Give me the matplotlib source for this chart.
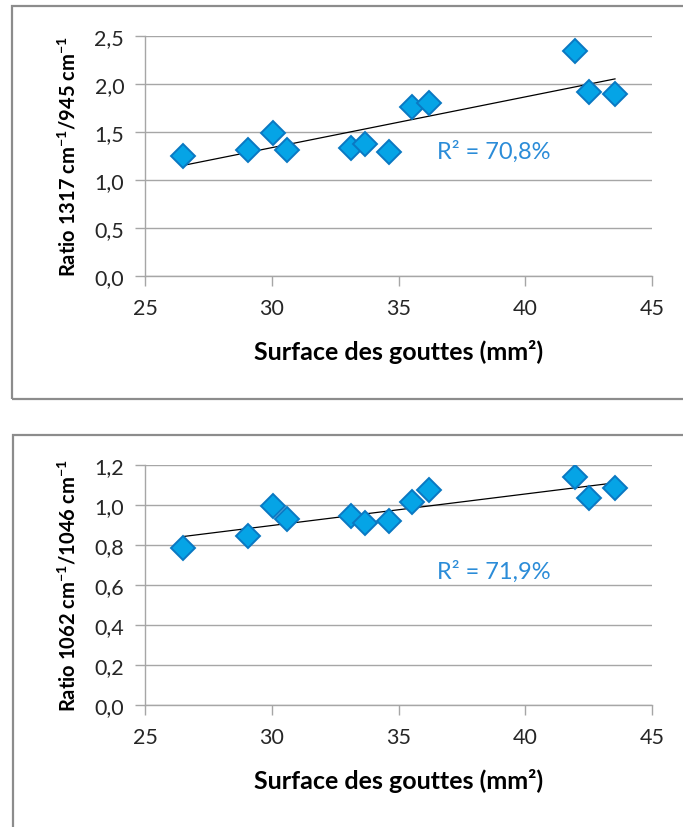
import numpy as np
import matplotlib
matplotlib.use('Agg')
import matplotlib.pyplot as plt
import matplotlib.patches as patches
from matplotlib.ticker import FuncFormatter, MultipleLocator

plt.rcParams['font.family'] = ['Lato', 'DejaVu Sans']
plt.rcParams['mathtext.fontset'] = 'custom'
plt.rcParams['mathtext.rm'] = 'Lato'
plt.rcParams['mathtext.bf'] = 'Lato:bold'

# data
surface = [26.5, 29.07, 30.06, 30.59, 33.11, 33.68, 34.64, 35.52, 36.22, 41.96, 42.53, 43.54]
ratio_1317_945 = [1.253, 1.316, 1.486, 1.31, 1.333, 1.375, 1.295, 1.757, 1.799, 2.34, 1.92, 1.896]
ratio_1062_1046 = [0.782, 0.845, 0.995, 0.928, 0.945, 0.907, 0.917, 1.012, 1.073, 1.137, 1.032, 1.083]

ylabels = [r'Ratio 1317 cm$^{\mathbf{-1}}$/945 cm$^{\mathbf{-1}}$',
           r'Ratio 1062 cm$^{\mathbf{-1}}$/1046 cm$^{\mathbf{-1}}$']
r2_text = ['R² = 70,8%', 'R² = 71,9%']
r2_pos = [(36.5, 1.30), (36.5, 0.67)]
ylims = [(0, 2.5), (0, 1.2)]
ysteps = [0.5, 0.2]
series = [ratio_1317_945, ratio_1062_1046]

grid_c = '#A6A6A6'
frame_c = '#8C8C8C'
text_c = '#262626'

fig = plt.figure(figsize=(6.83, 8.28), dpi=100)

# chart frames
fig.patches.append(patches.Rectangle((12 / 683, 1 - 400 / 828), 1.0, 393 / 828,
                                     transform=fig.transFigure, fill=False,
                                     edgecolor=frame_c, linewidth=1.6, clip_on=False))
fig.patches.append(patches.Rectangle((12.5 / 683, -0.1), 1.0, 0.1 + 1 - 436 / 828,
                                     transform=fig.transFigure, fill=False,
                                     edgecolor=frame_c, linewidth=1.6, clip_on=False))

axes_pos = [[145 / 683, 1 - 277 / 828, 507 / 683, 240 / 828],
            [145 / 683, 1 - 705.7 / 828, 507 / 683, 240 / 828]]

for i in range(2):
    ax = fig.add_axes(axes_pos[i])
    y = np.array(series[i])
    x = np.array(surface)

    ax.set_xlim(25, 45)
    ax.set_ylim(*ylims[i])
    ax.xaxis.set_major_locator(MultipleLocator(5))
    ax.yaxis.set_major_locator(MultipleLocator(ysteps[i]))
    ax.yaxis.set_major_formatter(FuncFormatter(lambda v, p: ('%.1f' % v).replace('.', ',')))

    ax.grid(axis='y', color=grid_c, linewidth=1.0)
    ax.set_axisbelow(True)
    for s in ['top', 'right']:
        ax.spines[s].set_visible(False)
    for s in ['left', 'bottom']:
        ax.spines[s].set_color(grid_c)
        ax.spines[s].set_linewidth(1.0)
    ax.tick_params(axis='both', direction='out', length=7, width=1.0, color=grid_c,
                   labelsize=15.5, labelcolor=text_c)
    ax.tick_params(axis='y', pad=8)
    ax.tick_params(axis='x', pad=9)

    # linear trendline
    k, b = np.polyfit(x, y, 1)
    xt = np.array([x.min(), x.max()])
    ax.plot(xt, k * xt + b, color='black', linewidth=0.9, zorder=3)

    ax.plot(x, y, linestyle='none', marker='D', markersize=12,
            markerfacecolor='#05A4E6', markeredgecolor='#0A78C2',
            markeredgewidth=1.4, zorder=4)

    ax.text(r2_pos[i][0], r2_pos[i][1], r2_text[i], color='#2B8CD8', fontsize=17,
            va='center', ha='left')

    ax.set_xlabel('Surface des gouttes (mm²)', fontsize=18, fontweight='bold',
                  color='black', labelpad=15)
    ax.set_ylabel(ylabels[i], fontsize=14.5, fontweight='bold', color='black')
    ax.yaxis.set_label_coords(-0.13, 0.5)

plt.savefig('out.png', dpi=100)
plt.close()
